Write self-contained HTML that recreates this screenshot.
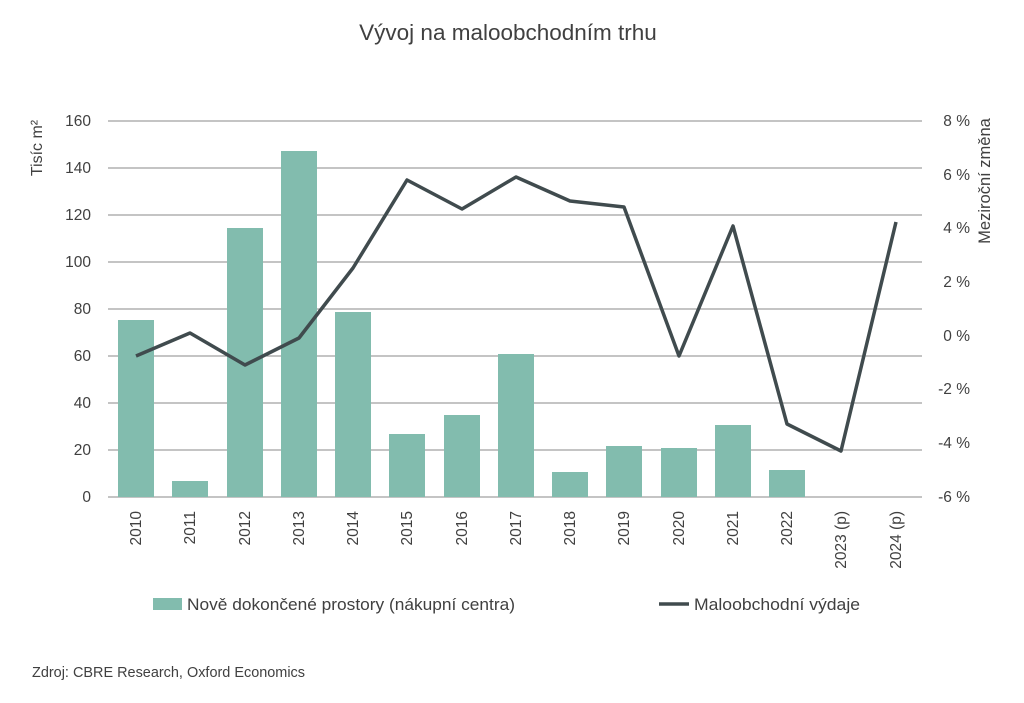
<!DOCTYPE html>
<html><head><meta charset="utf-8"><style>
body{margin:0;background:#fff;}
svg text{font-family:"Liberation Sans","DejaVu Sans",sans-serif;fill:#404040;}
</style></head><body>
<svg width="1024" height="698" viewBox="0 0 1024 698" xmlns="http://www.w3.org/2000/svg">
<text x="508" y="40" font-size="22.5" text-anchor="middle">Vývoj na maloobchodním trhu</text>
<g stroke="#8a8a8a" stroke-width="1">
<line x1="108" y1="121" x2="922" y2="121"/><line x1="108" y1="168" x2="922" y2="168"/>
<line x1="108" y1="215" x2="922" y2="215"/><line x1="108" y1="262" x2="922" y2="262"/>
<line x1="108" y1="309" x2="922" y2="309"/><line x1="108" y1="356" x2="922" y2="356"/>
<line x1="108" y1="403" x2="922" y2="403"/><line x1="108" y1="450" x2="922" y2="450"/>
<line x1="108" y1="497" x2="922" y2="497"/>
</g>
<g font-size="15.5" text-anchor="end">
<text x="91" y="126">160</text><text x="91" y="173">140</text><text x="91" y="220">120</text>
<text x="91" y="267">100</text><text x="91" y="314">80</text><text x="91" y="361">60</text>
<text x="91" y="408">40</text><text x="91" y="455">20</text><text x="91" y="502">0</text>
</g>
<g font-size="15.5" text-anchor="end">
<text x="970" y="126">8 %</text><text x="970" y="180">6 %</text><text x="970" y="233">4 %</text>
<text x="970" y="287">2 %</text><text x="970" y="341">0 %</text><text x="970" y="394">-2 %</text>
<text x="970" y="448">-4 %</text><text x="970" y="502">-6 %</text>
</g>
<text transform="translate(42,148) rotate(-90)" font-size="16" text-anchor="middle">Tisíc m²</text>
<text transform="translate(990,181) rotate(-90)" font-size="16.5" text-anchor="middle">Meziroční změna</text>
<g fill="#82bcae">
<rect x="118" y="320" width="36" height="177"/><rect x="172" y="481" width="36" height="16"/>
<rect x="227" y="228" width="36" height="269"/><rect x="281" y="151" width="36" height="346"/>
<rect x="335" y="312" width="36" height="185"/><rect x="389" y="434" width="36" height="63"/>
<rect x="444" y="415" width="36" height="82"/><rect x="498" y="354" width="36" height="143"/>
<rect x="552" y="472" width="36" height="25"/><rect x="606" y="446" width="36" height="51"/>
<rect x="661" y="448" width="36" height="49"/><rect x="715" y="425" width="36" height="72"/>
<rect x="769" y="470" width="36" height="27"/>
</g>
<polyline fill="none" stroke="#404b4e" stroke-width="3.5" stroke-linejoin="round" points="136,356 190,333 245,365 299,338 353,268 407,180 462,209 516,177 570,201 624,207 679,356 733,226 787,424 841,451 896,222"/>
<g font-size="15.5" text-anchor="end">
<text transform="translate(141,511) rotate(-90)">2010</text>
<text transform="translate(195,511) rotate(-90)">2011</text>
<text transform="translate(250,511) rotate(-90)">2012</text>
<text transform="translate(304,511) rotate(-90)">2013</text>
<text transform="translate(358,511) rotate(-90)">2014</text>
<text transform="translate(412,511) rotate(-90)">2015</text>
<text transform="translate(467,511) rotate(-90)">2016</text>
<text transform="translate(521,511) rotate(-90)">2017</text>
<text transform="translate(575,511) rotate(-90)">2018</text>
<text transform="translate(629,511) rotate(-90)">2019</text>
<text transform="translate(684,511) rotate(-90)">2020</text>
<text transform="translate(738,511) rotate(-90)">2021</text>
<text transform="translate(792,511) rotate(-90)">2022</text>
<text transform="translate(846,511) rotate(-90)">2023 (p)</text>
<text transform="translate(901,511) rotate(-90)">2024 (p)</text>
</g>
<rect x="153" y="598" width="29" height="12" fill="#82bcae"/>
<text x="187" y="610" font-size="17" textLength="328" lengthAdjust="spacingAndGlyphs">Nově dokončené prostory (nákupní centra)</text>
<line x1="659" y1="604" x2="689" y2="604" stroke="#404b4e" stroke-width="3.5"/>
<text x="694" y="610" font-size="17" textLength="166" lengthAdjust="spacingAndGlyphs">Maloobchodní výdaje</text>
<text x="32" y="677" font-size="14.5" textLength="273" lengthAdjust="spacingAndGlyphs">Zdroj: CBRE Research, Oxford Economics</text>
</svg>
</body></html>
